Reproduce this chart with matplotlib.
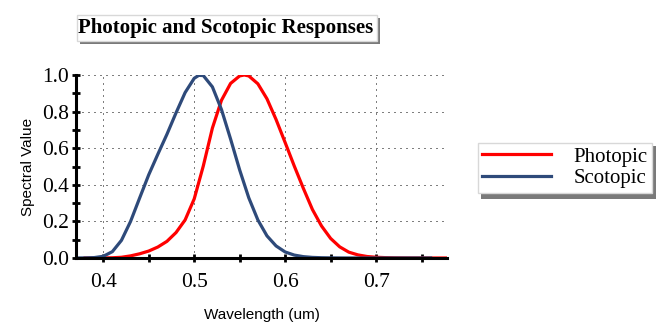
import numpy as np
import matplotlib
matplotlib.use("Agg")
import matplotlib.pyplot as plt
from matplotlib.patches import Rectangle
from matplotlib.ticker import MultipleLocator

# Luminous efficiency curves (wavelength in um)
photopic_wl = [0.38, 0.39, 0.40, 0.41, 0.42, 0.43, 0.44, 0.45, 0.46, 0.47, 0.48, 0.49,
               0.50, 0.51, 0.52, 0.53, 0.54, 0.55, 0.555, 0.56, 0.57, 0.58, 0.59, 0.60,
               0.61, 0.62, 0.63, 0.64, 0.65, 0.66, 0.67, 0.68, 0.69, 0.70, 0.71, 0.72,
               0.73, 0.74, 0.75, 0.76, 0.77, 0.78]
photopic_val = [0.0, 0.0001, 0.0004, 0.0012, 0.004, 0.0116, 0.023, 0.038, 0.06, 0.091, 0.139, 0.208,
                0.323, 0.503, 0.71, 0.862, 0.954, 0.995, 1.0, 0.995, 0.952, 0.870, 0.757, 0.631,
                0.503, 0.381, 0.265, 0.175, 0.107, 0.061, 0.032, 0.017, 0.0082, 0.0041, 0.0021, 0.001,
                0.0005, 0.0002, 0.0001, 0.0, 0.0, 0.0]

scotopic_wl = [0.37, 0.38, 0.39, 0.40, 0.41, 0.42, 0.43, 0.44, 0.45, 0.46, 0.47, 0.48, 0.49,
               0.50, 0.505, 0.51, 0.52, 0.53, 0.54, 0.55, 0.56, 0.57, 0.58, 0.59, 0.60,
               0.61, 0.62, 0.63, 0.64, 0.65, 0.66, 0.67, 0.68, 0.69, 0.70, 0.71, 0.72,
               0.73, 0.74, 0.75, 0.76]
scotopic_val = [0.0, 0.0006, 0.0022, 0.0093, 0.0348, 0.0966, 0.1998, 0.3281, 0.455, 0.567, 0.676, 0.793, 0.904,
                0.982, 0.998, 0.997, 0.935, 0.811, 0.650, 0.481, 0.329, 0.208, 0.121, 0.066, 0.033,
                0.016, 0.0074, 0.0033, 0.0015, 0.0007, 0.0003, 0.0001, 0.0, 0.0, 0.0, 0.0, 0.0,
                0.0, 0.0, 0.0, 0.0]

W, H = 668, 327
fig = plt.figure(figsize=(W / 100, H / 100), dpi=100)
ax = fig.add_axes([76 / W, 1 - 258 / H, (447 - 76) / W, (258 - 75) / H])

serif = "Liberation Serif"
sans = "Liberation Sans"

l1, = ax.plot(photopic_wl, photopic_val, color="#ff0000", lw=2.3, label="Photopic",
              solid_joinstyle="round", zorder=3)
l2, = ax.plot(scotopic_wl, scotopic_val, color="#2e4a7a", lw=2.3, label="Scotopic",
              solid_joinstyle="round", zorder=4)

ax.set_xlim(0.37, 0.778)
ax.set_ylim(0, 1.0)
ax.xaxis.set_minor_locator(MultipleLocator(0.05))
ax.yaxis.set_major_locator(MultipleLocator(0.2))
ax.yaxis.set_minor_locator(MultipleLocator(0.1))
ax.set_xticks([0.4, 0.5, 0.6, 0.7])
ax.set_xticklabels(["0.4", "0.5", "0.6", "0.7"])
ax.set_yticks([0.0, 0.2, 0.4, 0.6, 0.8, 1.0])
ax.set_yticklabels(["0.0", "0.2", "0.4", "0.6", "0.8", "1.0"])

for s in ["top", "right"]:
    ax.spines[s].set_visible(False)
for s in ["left", "bottom"]:
    ax.spines[s].set_linewidth(2.2)
    ax.spines[s].set_zorder(5)

ax.tick_params(which="both", direction="inout", length=6, width=2, color="black")
ax.tick_params(axis="x", which="major", pad=8)
ax.tick_params(axis="y", which="major", pad=2)
for lab in ax.get_xticklabels() + ax.get_yticklabels():
    lab.set_fontfamily(serif)
    lab.set_fontsize(15.5)

ax.grid(True, which="major", color="black", linestyle=(0, (1, 5)), linewidth=0.72)
ax.set_axisbelow(True)

ax.set_xlabel("Wavelength (um)", fontfamily=sans, fontsize=11, labelpad=11)
ax.set_ylabel("Spectral Value", fontfamily=sans, fontsize=11, labelpad=5)

# title with framed box and drop shadow
fig.add_artist(Rectangle((80 / W, 1 - 44 / H), 300 / W, 26 / H, transform=fig.transFigure,
                         facecolor="#7a7a7a", edgecolor="none", zorder=1))
fig.add_artist(Rectangle((77 / W, 1 - 41 / H), 300 / W, 26 / H, transform=fig.transFigure,
                         facecolor="white", edgecolor="#d8d8d8", lw=1, zorder=2))
fig.text(226 / W, 1 - 28.5 / H, "Photopic and Scotopic Responses", fontfamily=serif,
         fontweight="bold", fontsize=15, ha="center", va="center", zorder=3)

# legend panel with drop shadow
fig.add_artist(Rectangle((481 / W, 1 - 199 / H), 175 / W, 53 / H, transform=fig.transFigure,
                         facecolor="#7a7a7a", edgecolor="none", zorder=1))
leg = fig.legend(handles=[l1, l2], loc="upper left", bbox_to_anchor=(478 / W, 1 - 143 / H),
                 prop={"family": serif, "size": 15}, frameon=True, fancybox=False,
                 handlelength=3.3, handletextpad=1.1, labelspacing=0.1, borderpad=0.2,
                 borderaxespad=0)
leg.get_frame().set_edgecolor("#d8d8d8")
leg.get_frame().set_linewidth(1)
leg.get_frame().set_alpha(1)
leg.set_zorder(2)

fig.savefig("out.png", dpi=100)
